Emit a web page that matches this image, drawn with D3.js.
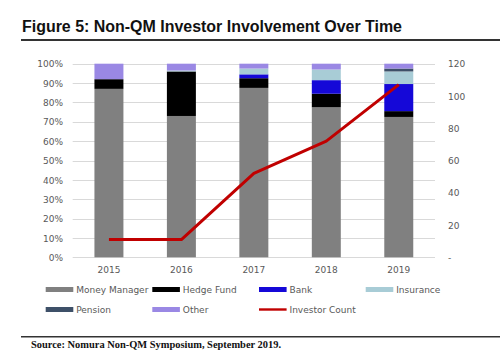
<!DOCTYPE html>
<html>
<head>
<meta charset="utf-8">
<script src="https://cdn.jsdelivr.net/npm/d3@7"></script>
<style>
  html, body { margin: 0; padding: 0; background: #fff; }
  svg { display: block; }
</style>
</head>
<body>
<svg id="chart" width="500" height="356"></svg>
<script>
// ---- Data ----
const years = ["2015", "2016", "2017", "2018", "2019"];
const moneyManager = [87, 73, 87.5, 77.5, 72.5];
const hedgeFund = [5, 23, 5, 7, 3];
const bank = [0, 0, 2, 7, 14];
const insurance = [0, 0.5, 3, 5.5, 6.5];
const pension = [0, 0, 0, 0, 1.5];
const other = [8, 3.5, 2.5, 3, 2.5];
const investorCount = [11, 11, 52, 72, 107];
const leftTicks = [0, 10, 20, 30, 40, 50, 60, 70, 80, 90, 100];
const rightTicks = [0, 20, 40, 60, 80, 100, 120];
const seriesNames = ["Money Manager", "Hedge Fund", "Bank", "Insurance", "Pension", "Other"];
const seriesColors = ["#808080", "#000000", "#1508d8", "#a8ccd6", "#3e5068", "#9a88e4"];
const lineName = "Investor Count";
const lineColor = "#c00000";

const seriesValues = [moneyManager, hedgeFund, bank, insurance, pension, other];
const table = years.map((yr, i) => {
  const row = { year: yr };
  seriesNames.forEach((n, k) => row[n] = seriesValues[k][i]);
  return row;
});

const svg = d3.select("#chart");
const plotLeft = 72.7, plotRight = 435, plotTop = 63.7, plotBottom = 257.3;

const x = d3.scaleBand().domain(years).range([plotLeft, plotRight]).paddingInner(0.6).paddingOuter(0.3);
const y = d3.scaleLinear().domain([0, 100]).range([plotBottom, plotTop]);
const y2 = d3.scaleLinear().domain([0, 120]).range([plotBottom, plotTop]);

// Title
svg.append("text")
  .attr("x", 22).attr("y", 31.5)
  .attr("font-family", "Liberation Sans, Arial, sans-serif")
  .attr("font-weight", "bold").attr("font-size", 16)
  .attr("fill", "#111")
  .attr("textLength", 380).attr("lengthAdjust", "spacingAndGlyphs")
  .text("Figure 5: Non-QM Investor Involvement Over Time");
svg.append("rect").attr("x", 21).attr("y", 39).attr("width", 479).attr("height", 2).attr("fill", "#333");

// Gridlines
svg.append("g").selectAll("line").data(leftTicks).join("line")
  .attr("x1", plotLeft).attr("x2", plotRight)
  .attr("y1", d => Math.round(y(d)) + 0.5).attr("y2", d => Math.round(y(d)) + 0.5)
  .attr("stroke", "#d9d9d9").attr("stroke-width", 1);

// Left axis
const yAxis = d3.axisLeft(y).tickValues(leftTicks).tickFormat(d => d + "%").tickSize(0).tickPadding(0);
const gl = svg.append("g").attr("transform", `translate(63,0)`).call(yAxis);
gl.select(".domain").remove();
gl.selectAll("text").attr("font-family", "DejaVu Sans, Verdana, sans-serif").attr("font-size", 9).attr("fill", "#595959").attr("dy", "0.35em");

// Right axis
const yAxisR = d3.axisRight(y2).tickValues(rightTicks).tickFormat(d => d === 0 ? "-" : d).tickSize(0).tickPadding(0);
const gr = svg.append("g").attr("transform", `translate(448,0)`).call(yAxisR);
gr.select(".domain").remove();
gr.selectAll("text").attr("font-family", "DejaVu Sans, Verdana, sans-serif").attr("font-size", 9).attr("fill", "#595959").attr("dy", "0.35em");

// X axis
const xAxis = d3.axisBottom(x).tickSize(0).tickPadding(0);
const gx = svg.append("g").attr("transform", `translate(0,${plotBottom + 9})`).call(xAxis);
gx.select(".domain").remove();
gx.selectAll("text").attr("font-family", "DejaVu Sans, Verdana, sans-serif").attr("font-size", 9).attr("fill", "#595959").attr("dy", "0.71em");

// Stacked bars
const stack = d3.stack().keys(seriesNames)(table);
svg.append("g").selectAll("g").data(stack).join("g")
  .attr("fill", (d, i) => seriesColors[i])
  .selectAll("rect").data(d => d).join("rect")
  .attr("x", d => x(d.data.year))
  .attr("width", x.bandwidth())
  .attr("y", d => y(d[1]))
  .attr("height", d => Math.max(0, y(d[0]) - y(d[1])));

// Investor count line
const line = d3.line().x((d, i) => x(years[i]) + x.bandwidth() / 2).y(d => y2(d));
svg.append("path").datum(investorCount)
  .attr("d", line).attr("fill", "none")
  .attr("stroke", lineColor).attr("stroke-width", 3).attr("stroke-linejoin", "round");

// Legend
const legendItems = [
  { name: "Money Manager", color: seriesColors[0], x: 45.7, y: 289.5, type: "bar" },
  { name: "Hedge Fund", color: seriesColors[1], x: 152.3, y: 289.5, type: "bar" },
  { name: "Bank", color: seriesColors[2], x: 259, y: 289.5, type: "bar" },
  { name: "Insurance", color: seriesColors[3], x: 365.7, y: 289.5, type: "bar" },
  { name: "Pension", color: seriesColors[4], x: 45.7, y: 309.5, type: "bar" },
  { name: "Other", color: seriesColors[5], x: 152.3, y: 309.5, type: "bar" },
  { name: lineName, color: lineColor, x: 259, y: 309.5, type: "line" }
];
const lg = svg.append("g").selectAll("g").data(legendItems).join("g")
  .attr("transform", d => `translate(${d.x},${d.y})`);
lg.append("rect")
  .attr("x", 0).attr("width", 27.6)
  .attr("y", d => d.type === "bar" ? -2.5 : -1.2)
  .attr("height", d => d.type === "bar" ? 5 : 2.4)
  .attr("fill", d => d.color);
lg.append("text")
  .attr("x", 30.5).attr("dy", "0.35em")
  .attr("font-family", "DejaVu Sans, Verdana, sans-serif").attr("font-size", 9)
  .attr("fill", "#595959")
  .text(d => d.name);

// Bottom rule and source
svg.append("rect").attr("x", 21).attr("y", 336).attr("width", 479).attr("height", 1.5).attr("fill", "#333");
svg.append("text")
  .attr("x", 31).attr("y", 348)
  .attr("font-family", "Liberation Serif, Times New Roman, serif")
  .attr("font-weight", "bold").attr("font-size", 10)
  .attr("fill", "#111")
  .attr("textLength", 250).attr("lengthAdjust", "spacingAndGlyphs")
  .text("Source: Nomura Non-QM Symposium, September 2019.");
</script>
</body>
</html>
